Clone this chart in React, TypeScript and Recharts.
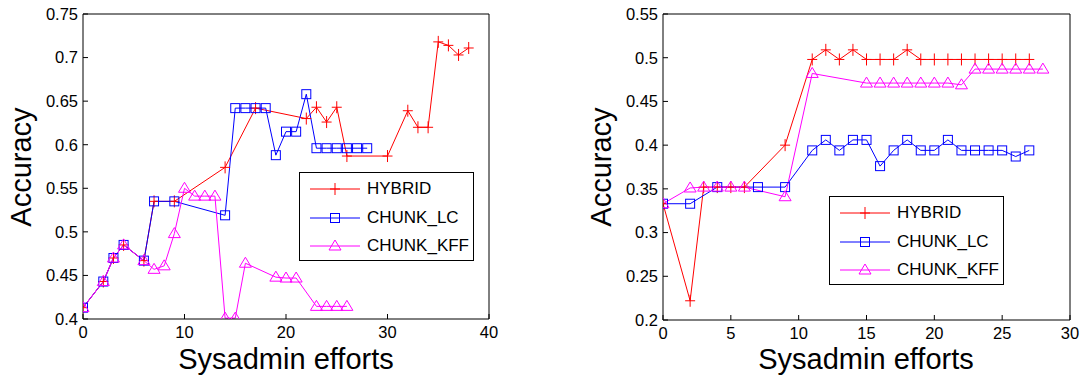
import React from "react";
import { Line, LineChart, XAxis, YAxis } from "recharts";

// left panel
const leftHybridX = [0, 2, 3, 4, 6, 7, 9, 14, 17, 22, 23, 24, 25, 26, 30, 32, 33, 34, 35, 36, 37, 38];
const leftHybridY = [0.413, 0.443, 0.47, 0.485, 0.467, 0.535, 0.535, 0.574, 0.642, 0.63, 0.643, 0.626, 0.643, 0.587, 0.587, 0.639, 0.62, 0.62, 0.718, 0.714, 0.703, 0.711];
const leftLcX = [0, 2, 3, 4, 6, 7, 9, 14, 15, 16, 17, 18, 19, 20, 21, 22, 23, 24, 25, 26, 27, 28];
const leftLcY = [0.413, 0.443, 0.47, 0.485, 0.467, 0.535, 0.535, 0.519, 0.642, 0.642, 0.642, 0.642, 0.588, 0.615, 0.615, 0.658, 0.596, 0.596, 0.596, 0.596, 0.596, 0.596];
const leftKffX = [0, 2, 3, 4, 6, 7, 8, 9, 10, 11, 12, 13, 14, 15, 16, 19, 20, 21, 23, 24, 25, 26];
const leftKffY = [0.413, 0.443, 0.47, 0.485, 0.467, 0.457, 0.461, 0.498, 0.55, 0.541, 0.541, 0.541, 0.401, 0.401, 0.464, 0.448, 0.447, 0.447, 0.4145, 0.4145, 0.4145, 0.4145];
const leftXTicks = [0, 10, 20, 30, 40];
const leftYTicks = [0.4, 0.45, 0.5, 0.55, 0.6, 0.65, 0.7, 0.75];

// right panel
const rightHybridX = [0, 2, 3, 4, 5, 6, 9, 11, 12, 13, 14, 15, 16, 17, 18, 19, 20, 21, 22, 23, 24, 25, 26, 27];
const rightHybridY = [0.333, 0.222, 0.352, 0.352, 0.352, 0.352, 0.4, 0.498, 0.509, 0.498, 0.509, 0.498, 0.498, 0.498, 0.509, 0.498, 0.498, 0.498, 0.498, 0.498, 0.498, 0.498, 0.498, 0.498];
const rightLcX = [0, 2, 4, 7, 9, 11, 12, 13, 14, 15, 16, 17, 18, 19, 20, 21, 22, 23, 24, 25, 26, 27];
const rightLcY = [0.333, 0.333, 0.352, 0.352, 0.352, 0.394, 0.406, 0.394, 0.406, 0.406, 0.376, 0.394, 0.406, 0.394, 0.394, 0.406, 0.394, 0.394, 0.394, 0.394, 0.387, 0.394];
const rightKffX = [0, 2, 3, 4, 5, 6, 9, 11, 15, 16, 17, 18, 19, 20, 21, 22, 23, 24, 25, 26, 27, 28];
const rightKffY = [0.333, 0.351, 0.352, 0.352, 0.352, 0.352, 0.341, 0.482, 0.471, 0.471, 0.471, 0.471, 0.471, 0.471, 0.471, 0.469, 0.487, 0.487, 0.487, 0.487, 0.487, 0.487];
const rightXTicks = [0, 5, 10, 15, 20, 25, 30];
const rightYTicks = [0.2, 0.25, 0.3, 0.35, 0.4, 0.45, 0.5, 0.55];

const seriesNames = ["HYBRID", "CHUNK_LC", "CHUNK_KFF"];
const seriesColors = ["#ff0000", "#0000ff", "#ff00ff"];

const FONT = '"Liberation Sans", Arial, sans-serif';

const rows = (xs: number[], ys: number[]) => xs.map((x, i) => ({ x, y: ys[i] }));

function Marker({ kind, cx, cy, color }: { kind: number; cx: number; cy: number; color: string }) {
  if (kind === 0) {
    return (
      <g stroke={color} strokeWidth={1} fill="none">
        <line x1={cx - 5} y1={cy} x2={cx + 5} y2={cy} />
        <line x1={cx} y1={cy - 6} x2={cx} y2={cy + 6} />
      </g>
    );
  }
  if (kind === 1) {
    return <rect x={cx - 4.5} y={cy - 4.5} width={9} height={9} stroke={color} strokeWidth={1} fill="none" />;
  }
  return <polygon points={`${cx - 6},${cy + 4} ${cx + 6},${cy + 4} ${cx},${cy - 6}`} stroke={color} strokeWidth={1} fill="none" />;
}

function LegendBox({ left, top }: { left: number; top: number }) {
  return (
    <div
      style={{
        position: "absolute",
        left,
        top,
        width: 173,
        height: 87,
        border: "1px solid #000",
        background: "#fff",
        fontFamily: FONT,
        fontSize: 17,
      }}
    >
      {seriesNames.map((name, i) => (
        <div key={name} style={{ position: "absolute", left: 10, top: 5 + i * 28.5, height: 22, display: "flex", alignItems: "center" }}>
          <svg width={52} height={22}>
            <line x1={0} y1={11} x2={50} y2={11} stroke={seriesColors[i]} strokeWidth={1} />
            <Marker kind={i} cx={25} cy={11} color={seriesColors[i]} />
          </svg>
          <span style={{ marginLeft: 5, color: "#000" }}>{name}</span>
        </div>
      ))}
    </div>
  );
}

interface PanelProps {
  width: number;
  margin: { top: number; right: number; bottom: number; left: number };
  data: { x: number; y: number }[][];
  xDomain: [number, number];
  yDomain: [number, number];
  xTicks: number[];
  yTicks: number[];
}

function Panel({ width, margin, data, xDomain, yDomain, xTicks, yTicks }: PanelProps) {
  const tickStyle = { fill: "#000", fontSize: 16.5, fontFamily: FONT };
  // axes are 1px thick, so take that off the margins
  const m = { top: margin.top - 1, right: margin.right - 1, bottom: margin.bottom - 1, left: margin.left - 1 };
  return (
    <LineChart width={width} height={378} margin={m}>
      <XAxis
        xAxisId="b"
        type="number"
        dataKey="x"
        domain={xDomain}
        ticks={xTicks}
        height={1}
        tickSize={-5}
        tickMargin={12.5}
        tick={tickStyle}
        axisLine={{ stroke: "#000" }}
        tickLine={{ stroke: "#000" }}
        interval={0}
        allowDataOverflow
      />
      <XAxis
        xAxisId="t"
        orientation="top"
        type="number"
        dataKey="x"
        domain={xDomain}
        ticks={xTicks}
        height={1}
        tickSize={-5}
        tick={false}
        axisLine={{ stroke: "#000" }}
        tickLine={{ stroke: "#000" }}
        interval={0}
        allowDataOverflow
      />
      <YAxis
        yAxisId="l"
        type="number"
        domain={yDomain}
        ticks={yTicks}
        width={1}
        tickSize={-5}
        tickMargin={10}
        tick={tickStyle}
        axisLine={{ stroke: "#000" }}
        tickLine={{ stroke: "#000" }}
        interval={0}
        allowDataOverflow
      />
      <YAxis
        yAxisId="r"
        orientation="right"
        type="number"
        domain={yDomain}
        ticks={yTicks}
        width={1}
        tickSize={-5}
        tick={false}
        axisLine={{ stroke: "#000" }}
        tickLine={{ stroke: "#000" }}
        interval={0}
        allowDataOverflow
      />
      {data.map((d, i) => (
        <Line
          key={seriesNames[i]}
          xAxisId="b"
          yAxisId="l"
          data={d}
          dataKey="y"
          name={seriesNames[i]}
          type="linear"
          stroke={seriesColors[i]}
          strokeWidth={1}
          isAnimationActive={false}
          dot={(p: { cx: number; cy: number; index: number }) => (
            <Marker key={`${i}-${p.index}`} kind={i} cx={p.cx} cy={p.cy} color={seriesColors[i]} />
          )}
          activeDot={false}
        />
      ))}
    </LineChart>
  );
}

const titleStyle: React.CSSProperties = {
  position: "absolute",
  fontFamily: FONT,
  fontSize: 29,
  color: "#000",
  whiteSpace: "nowrap",
  lineHeight: "22px",
};

export default function App() {
  return (
    <div style={{ position: "absolute", left: 0, top: 0, width: 1086, height: 378, background: "#fff" }}>
      <div style={{ position: "absolute", left: 0, top: 0 }}>
        <Panel
          width={520}
          margin={{ top: 14, right: 31, bottom: 59, left: 83 }}
          data={[rows(leftHybridX, leftHybridY), rows(leftLcX, leftLcY), rows(leftKffX, leftKffY)]}
          xDomain={[0, 40]}
          yDomain={[0.4, 0.75]}
          xTicks={leftXTicks}
          yTicks={leftYTicks}
        />
      </div>
      <div style={{ position: "absolute", left: 540, top: 0 }}>
        <Panel
          width={546}
          margin={{ top: 14, right: 16, bottom: 58, left: 123 }}
          data={[rows(rightHybridX, rightHybridY), rows(rightLcX, rightLcY), rows(rightKffX, rightKffY)]}
          xDomain={[0, 30]}
          yDomain={[0.2, 0.55]}
          xTicks={rightXTicks}
          yTicks={rightYTicks}
        />
      </div>
      <LegendBox left={299} top={172} />
      <LegendBox left={829} top={196} />
      <div style={{ ...titleStyle, left: 286, top: 348, transform: "translateX(-50%)" }}>Sysadmin efforts</div>
      <div style={{ ...titleStyle, left: 866, top: 348, transform: "translateX(-50%)" }}>Sysadmin efforts</div>
      <div style={{ ...titleStyle, left: 21, top: 167, transform: "translate(-50%, -50%) rotate(-90deg)" }}>Accuracy</div>
      <div style={{ ...titleStyle, left: 601, top: 167, transform: "translate(-50%, -50%) rotate(-90deg)" }}>Accuracy</div>
    </div>
  );
}
